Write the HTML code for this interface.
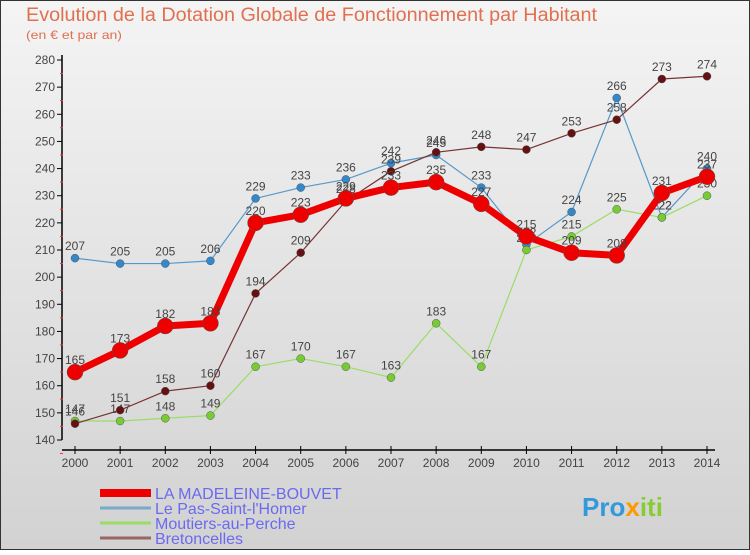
<!DOCTYPE html>
<html><head><meta charset="utf-8"><style>
body{margin:0;width:750px;height:550px;overflow:hidden;font-family:"Liberation Sans",sans-serif}
</style></head><body>
<svg width="750" height="550" xmlns="http://www.w3.org/2000/svg">
<defs><linearGradient id="bg" x1="0" y1="0" x2="0" y2="1"><stop offset="0" stop-color="#f4f4f4"/><stop offset="1" stop-color="#d2d2d2"/></linearGradient></defs>
<rect x="0.5" y="0.5" width="749" height="549" fill="url(#bg)" stroke="#333"/>
<text x="26" y="21" font-size="19" fill="#e07050" textLength="571" lengthAdjust="spacingAndGlyphs">Evolution de la Dotation Globale de Fonctionnement par Habitant</text>
<text x="26" y="39" font-size="12" fill="#e07050" textLength="96" lengthAdjust="spacingAndGlyphs">(en € et par an)</text>
<g id="axes"></g><g id="series"></g><g id="legend"></g>
<text x="582" y="516" font-size="26" font-weight="bold" fill="#3399dd">Pro<tspan fill="#ff9900">x</tspan><tspan fill="#88cc33">iti</tspan></text>
</svg>
<script>
const years=[2000,2001,2002,2003,2004,2005,2006,2007,2008,2009,2010,2011,2012,2013,2014];
const yTicks=[140,150,160,170,180,190,200,210,220,230,240,250,260,270,280];
const names=["LA MADELEINE-BOUVET","Le Pas-Saint-l'Homer","Moutiers-au-Perche","Bretoncelles"];
const madeleine=[165,173,182,183,220,223,229,233,235,227,215,209,208,231,237];
const pas=[207,205,205,206,229,233,236,242,245,233,212,224,266,222,240];
const moutiers=[147,147,148,149,167,170,167,163,183,167,210,215,225,222,230];
const bretoncelles=[146,151,158,160,194,209,228,239,246,248,247,253,258,273,274];
const NS="http://www.w3.org/2000/svg";
const X=i=>75+i*(707-75)/14, Y=v=>440-(v-140)*(380/140);
function mk(t,a,p){const e=document.createElementNS(NS,t);for(const k in a)e.setAttribute(k,a[k]);p.appendChild(e);return e;}
const ax=document.getElementById('axes');
let l=mk('line',{x1:62,y1:55,x2:62,y2:440,stroke:'#000','stroke-width':1.5},ax);


l=mk('line',{x1:62,y1:450,x2:715,y2:450,stroke:'#000','stroke-width':1.5},ax);


yTicks.forEach(v=>{const y=Y(v);mk('line',{x1:57,y1:y,x2:62,y2:y,stroke:'#000'},ax);
mk('line',{x1:60,y1:y+13.5,x2:63,y2:y+13.5,stroke:'#f33'},ax);
const t=mk('text',{x:55,y:y+4,'font-size':12,'text-anchor':'end',fill:'#444'},ax);t.textContent=v;

});
years.forEach((yr,i)=>{const x=X(i);mk('line',{x1:x,y1:446,x2:x,y2:454,stroke:'#000'},ax);
const t=mk('text',{x:x,y:467,'font-size':12,'text-anchor':'middle',fill:'#444'},ax);t.textContent=yr;

});
const sg=document.getElementById('series');
const defs=[[pas,'#5599cc','#3388cc',1.2,4,'series-pas-saint-lhomer'],[moutiers,'#99dd66','#77cc33',1.2,4,'series-moutiers'],[bretoncelles,'#773333','#661111',1.2,4,'series-bretoncelles'],[madeleine,'#ee0000','#ee0000',7,8,'series-madeleine']];
defs.forEach(([d,c,pc,w,r,n])=>{const g=mk('g',{},sg);


mk('polyline',{points:d.map((v,i)=>X(i)+','+Y(v)).join(' '),fill:'none',stroke:c,'stroke-width':w,'stroke-linejoin':'round'},g);
d.forEach((v,i)=>{const p=mk('circle',{cx:X(i),cy:Y(v),r:r,fill:pc,stroke:'#555','stroke-width':0.5},g);


const t=mk('text',{x:X(i),y:Y(v)-8,'font-size':12,'text-anchor':'middle',fill:'#444'},g);t.textContent=v;

});});
const lg=document.getElementById('legend');
const lc=['#ee0000','#77aacc','#99dd66','#996666'],lw=[8,3,3,3];
names.forEach((n,i)=>{const y=493+i*15;const g=mk('g',{},lg);


mk('line',{x1:100,y1:y,x2:151,y2:y,stroke:lc[i],'stroke-width':lw[i]},g);
const t=mk('text',{x:155,y:y+6,'font-size':16,fill:'#6a6af0'},g);t.textContent=n;});
</script>
</body></html>
